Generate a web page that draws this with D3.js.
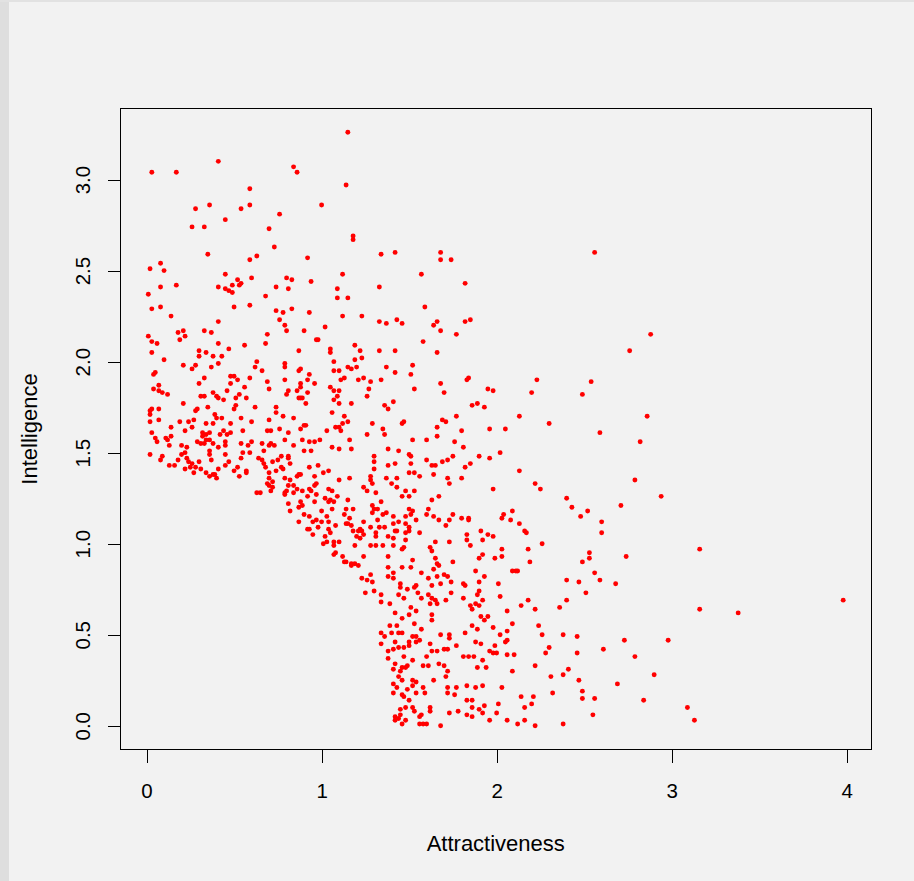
<!DOCTYPE html>
<html>
<head>
<meta charset="utf-8">
<script src="https://cdn.jsdelivr.net/npm/d3@7"></script>
<style>
  html, body { margin: 0; padding: 0; background: #f2f2f2; }
  svg { display: block; }
  text { font-family: "Liberation Sans", Arial, Helvetica, sans-serif; fill: #000; }
</style>
</head>
<body>
<svg id="chart" width="914" height="881"></svg>
<script>
// Axis labels and tick values
const xLabel = "Attractiveness";
const yLabel = "Intelligence";
const xTicks = [0, 1, 2, 3, 4];
const yTicks = [0, 0.5, 1, 1.5, 2, 2.5, 3];

// Each observation: [attractiveness, intelligence]
const people = [
  [0.03,3.04],[0.17,3.04],[0.41,3.10],[0.84,3.07],[0.86,3.04],[0.59,2.95],[0.28,2.84],[0.36,2.86],[0.54,2.84],[0.59,2.86],
  [0.76,2.81],[0.45,2.78],[0.26,2.74],[0.33,2.74],[0.70,2.73],[0.73,2.63],[0.35,2.59],[0.59,2.56],[0.63,2.58],[0.08,2.54],
  [0.02,2.51],[0.10,2.50],[0.45,2.48],[0.60,2.46],[0.52,2.45],[0.54,2.43],[0.53,2.42],[0.49,2.42],[0.80,2.46],[0.83,2.45],
  [0.74,2.41],[0.81,2.40],[0.17,2.42],[0.08,2.41],[0.01,2.37],[0.41,2.41],[0.45,2.40],[0.47,2.39],[0.49,2.38],[0.68,2.36],
  [0.03,2.29],[0.08,2.30],[0.50,2.30],[0.59,2.31],[0.74,2.28],[0.78,2.27],[0.83,2.29],[0.14,2.25],[0.41,2.22],[0.76,2.23],
  [0.79,2.20],
  [1.15,3.26],[1.14,2.97],[1.00,2.86],[1.18,2.69],[1.18,2.67],[0.92,2.57],[1.34,2.59],[1.42,2.60],[1.68,2.60],[1.68,2.56],
  [1.74,2.56],[1.12,2.48],[0.94,2.44],[1.57,2.48],[1.09,2.40],[1.33,2.41],[1.09,2.35],[1.15,2.35],[0.93,2.27],[1.12,2.25],
  [1.23,2.25],[1.59,2.30],[1.33,2.22],[1.37,2.21],[1.43,2.23],[1.46,2.21],[1.66,2.22],[1.64,2.20],[1.02,2.19],
  [2.56,2.60],[1.82,2.43],[1.82,2.22],[1.85,2.23],
  [0.01,2.14],[0.03,2.11],[0.06,2.10],[0.18,2.16],[0.19,2.12],[0.22,2.14],[0.21,2.17],[0.33,2.17],[0.37,2.16],[0.41,2.10],
  [0.47,2.07],[0.56,2.09],[0.69,2.15],[0.68,2.10],[0.80,2.17],[0.87,2.06],[0.03,2.05],[0.10,2.01],[0.30,2.06],[0.30,2.03],
  [0.34,2.05],[0.38,2.03],[0.43,2.03],[0.21,1.98],[0.26,1.96],[0.28,1.98],[0.37,1.97],[0.41,1.99],[0.63,2.00],[0.62,1.97],
  [0.66,1.95],[0.79,1.99],[0.79,1.97],[0.87,1.95],[0.05,1.94],[0.04,1.93],[0.48,1.92],[0.50,1.92],[0.33,1.91],[0.59,1.91],
  [0.52,1.90],[0.48,1.88],[0.30,1.88],[0.69,1.89],[0.79,1.90],[0.07,1.87],[0.04,1.85],[0.07,1.84],[0.09,1.83],[0.12,1.82],
  [0.38,1.83],[0.46,1.84],[0.56,1.86],[0.70,1.85],[0.81,1.84],[0.80,1.82],[0.86,1.84],[0.31,1.81],[0.33,1.81],[0.40,1.81],
  [0.41,1.80],[0.44,1.79],[0.51,1.80],[0.53,1.82],[0.57,1.80],[0.87,1.80],[0.21,1.77],[0.35,1.75],[0.51,1.76],[0.50,1.74],
  [0.62,1.75],[0.74,1.75],[0.74,1.72],[0.78,1.70],[0.02,1.73],[0.03,1.74],[0.07,1.74],[0.02,1.71],[0.28,1.73],[0.29,1.74],
  [0.39,1.71],[0.40,1.69],[0.43,1.69],[0.38,1.66],[0.54,1.69],[0.60,1.67],[0.70,1.68],[0.84,1.69],[0.02,1.67],[0.07,1.68],
  [0.14,1.64],[0.19,1.67],[0.24,1.67],[0.27,1.68],[0.26,1.64],[0.22,1.62],[0.34,1.66],[0.48,1.66],[0.69,1.62],[0.71,1.62],
  [0.76,1.63],[0.81,1.61],[0.03,1.61],[0.05,1.58],[0.06,1.56],[0.11,1.58],[0.12,1.57],[0.14,1.59],[0.13,1.54],[0.20,1.54],
  [0.23,1.53],[0.29,1.56],[0.32,1.59],[0.32,1.61],[0.34,1.60],[0.36,1.61],[0.31,1.55],[0.33,1.55],[0.34,1.57],[0.36,1.57],
  [0.38,1.55],[0.42,1.60],[0.44,1.62],[0.46,1.60],[0.48,1.61],[0.45,1.56],[0.45,1.54],[0.41,1.53],[0.54,1.55],[0.55,1.62],
  [0.58,1.54],[0.60,1.56],[0.66,1.55],[0.70,1.54],[0.71,1.55],[0.73,1.54],[0.79,1.57],[0.84,1.54],[0.02,1.49],[0.08,1.46],
  [0.09,1.48],[0.13,1.43],[0.16,1.43],[0.18,1.46],[0.20,1.49],[0.22,1.50],[0.23,1.47],[0.24,1.45],[0.26,1.44],[0.25,1.42],
  [0.27,1.39],[0.28,1.42],[0.30,1.45],[0.31,1.41],[0.22,1.41],[0.34,1.39],[0.36,1.49],[0.36,1.51],[0.37,1.46],[0.38,1.38],
  [0.36,1.37],[0.39,1.38],[0.40,1.36],[0.41,1.41],[0.45,1.43],[0.45,1.49],[0.47,1.45],[0.52,1.42],[0.50,1.40],[0.53,1.37],
  [0.54,1.47],[0.55,1.50],[0.57,1.39],[0.57,1.40],[0.59,1.50],[0.64,1.47],[0.66,1.46],[0.67,1.51],[0.67,1.44],[0.68,1.42],
  [0.72,1.45],[0.75,1.46],[0.77,1.48],[0.81,1.47],[0.81,1.48],[0.82,1.44],[0.77,1.42],[0.78,1.41],[0.74,1.40],[0.70,1.39],
  [0.70,1.36],[0.69,1.33],[0.70,1.32],[0.72,1.34],[0.72,1.31],[0.71,1.29],[0.79,1.36],[0.82,1.35],[0.86,1.37],[0.87,1.38],
  [0.63,1.28],[0.65,1.28],[0.81,1.32],[0.80,1.29],[0.84,1.32],[0.86,1.30],[0.84,1.28],[0.79,1.28],[0.79,1.27],[0.81,1.22],
  [0.82,1.18],[0.87,1.20],[0.87,1.12],
  [0.97,2.12],[0.98,2.12],[0.90,2.17],[1.68,2.17],[1.77,2.15],[1.58,2.11],[1.05,2.07],[1.05,2.05],[1.19,2.09],[1.22,2.06],
  [1.33,2.06],[1.42,2.06],[1.66,2.05],[1.07,2.00],[1.19,2.01],[1.23,2.02],[1.20,1.97],[1.15,1.97],[1.17,1.96],[1.07,1.95],
  [1.10,1.95],[1.37,1.97],[1.52,1.98],[1.42,1.94],[1.51,1.93],[0.88,1.96],[0.93,1.93],[0.92,1.90],[0.96,1.88],[0.88,1.88],
  [0.88,1.86],[1.11,1.90],[1.13,1.91],[1.21,1.90],[1.24,1.91],[1.28,1.89],[1.34,1.90],[1.68,1.88],[1.70,1.83],[1.53,1.85],
  [1.05,1.86],[1.07,1.84],[1.10,1.84],[1.09,1.81],[1.07,1.79],[1.10,1.77],[1.27,1.85],[1.26,1.81],[0.88,1.80],[0.89,1.80],
  [0.91,1.77],[0.92,1.83],[1.17,1.77],[1.36,1.76],[1.38,1.74],[1.41,1.78],[1.06,1.72],[1.13,1.70],[1.15,1.67],[1.12,1.66],
  [1.10,1.64],[1.08,1.64],[1.11,1.62],[1.03,1.62],[1.29,1.66],[1.35,1.63],[1.36,1.60],[1.26,1.60],[1.46,1.66],[1.47,1.67],
  [1.66,1.64],[1.69,1.68],[1.71,1.67],[1.77,1.70],[1.66,1.59],[1.52,1.57],[1.60,1.57],[1.76,1.56],[0.90,1.65],[0.91,1.65],
  [0.88,1.63],[0.89,1.57],[0.93,1.56],[0.96,1.56],[0.99,1.57],[0.90,1.51],[0.94,1.51],[1.06,1.53],[1.10,1.52],[1.17,1.52],
  [1.16,1.57],[1.38,1.52],[1.44,1.51],[1.50,1.49],[1.51,1.48],[1.30,1.48],[1.30,1.45],[1.30,1.41],[1.38,1.43],[1.42,1.44],
  [1.51,1.44],[1.60,1.46],[1.63,1.43],[1.65,1.43],[1.69,1.45],[1.72,1.46],[1.75,1.48],[1.64,1.38],[1.72,1.36],[1.73,1.33],
  [0.93,1.42],[0.98,1.43],[1.01,1.39],[1.04,1.40],[0.96,1.37],[0.88,1.38],[1.10,1.35],[1.16,1.36],[1.28,1.37],[1.28,1.35],
  [1.29,1.33],[1.24,1.31],[1.26,1.29],[1.37,1.36],[1.43,1.36],[1.40,1.33],[1.43,1.31],[1.50,1.39],[1.53,1.39],[1.56,1.37],
  [1.31,1.28],[1.48,1.29],[1.53,1.29],[1.46,1.26],[1.50,1.26],[1.67,1.26],[1.63,1.24],[0.89,1.29],[0.93,1.30],[0.96,1.32],
  [0.97,1.33],[0.97,1.27],[0.96,1.23],[0.92,1.26],[0.94,1.29],[1.02,1.25],[1.04,1.30],[1.06,1.29],[1.05,1.24],[1.07,1.23],
  [1.04,1.23],[1.09,1.26],[1.15,1.24],[0.88,1.23],[0.89,1.21],[0.90,1.16],[0.93,1.15],[0.97,1.13],[0.95,1.12],[1.00,1.18],
  [1.00,1.12],[1.03,1.15],[1.04,1.12],[1.06,1.19],[1.04,1.08],[0.92,1.08],[0.93,1.08],[0.98,1.09],[0.95,1.05],[1.02,1.04],
  [1.05,1.06],[1.08,1.10],[1.14,1.19],[1.18,1.19],[1.13,1.16],[1.16,1.14],[1.14,1.11],[1.17,1.10],[1.18,1.07],[1.15,1.11],
  [1.22,1.08],[1.21,1.07],[1.23,1.07],[1.24,1.05],[1.20,1.04],[1.22,1.03],[1.24,1.12],[1.29,1.17],[1.29,1.21],[1.34,1.23],
  [1.35,1.16],[1.37,1.17],[1.41,1.15],[1.30,1.19],[1.32,1.19],[1.32,1.13],[1.28,1.09],[1.31,1.06],[1.31,1.04],[1.33,1.09],
  [1.36,1.09],[1.38,1.04],[1.41,1.11],[1.44,1.12],[1.42,1.07],[1.43,1.07],[1.41,1.03],[1.48,1.15],[1.50,1.19],[1.51,1.16],
  [1.54,1.13],[1.52,1.18],[1.50,1.07],[1.48,1.11],[1.50,1.09],[1.48,1.06],[1.56,1.06],[1.61,1.19],[1.60,1.16],[1.64,1.15],
  [1.67,1.13],[1.71,1.10],[1.73,1.13],[1.75,1.16],
  [2.76,2.06],[1.84,1.91],[1.83,1.90],[2.23,1.90],[2.54,1.89],[1.95,1.85],[1.98,1.84],[2.20,1.83],[2.49,1.82],[1.89,1.77],
  [1.86,1.76],[1.93,1.75],[2.13,1.70],[2.86,1.70],[2.30,1.66],[1.80,1.62],[1.96,1.63],[2.05,1.63],[2.59,1.61],[2.82,1.56],
  [1.81,1.53],[1.90,1.48],[1.96,1.47],[2.02,1.50],[1.82,1.42],[1.85,1.44],[2.13,1.40],[1.80,1.36],[1.98,1.30],[2.22,1.33],
  [2.25,1.30],[2.79,1.35],[2.40,1.25],[2.43,1.20],[2.71,1.21],[2.52,1.18],[2.48,1.15],[2.60,1.12],[2.60,1.06],[2.09,1.18],
  [2.04,1.16],[2.03,1.14],[2.08,1.13],[1.80,1.14],[1.84,1.14],[1.84,1.13],[2.13,1.11],[1.91,1.07],[1.95,1.05],[1.98,1.04],
  [1.83,1.05],[2.16,1.07],[2.17,1.06],
  [2.88,2.15],[2.94,1.26],[3.16,0.97],[3.98,0.69],[3.16,0.64],[3.38,0.62],[2.98,0.47],[2.90,0.28],[3.09,0.10],[3.13,0.03],
  [1.01,1.00],[1.03,1.01],[1.07,1.01],[1.07,0.99],[1.10,1.01],[1.19,0.99],[1.28,0.99],[1.31,0.99],[1.35,0.99],[1.41,0.99],
  [1.46,0.97],[1.47,0.98],[1.48,1.02],[1.62,0.98],[1.63,0.96],[1.65,1.01],[1.73,1.01],[1.07,0.94],[1.08,0.95],[1.12,0.93],
  [1.13,0.90],[1.14,0.90],[1.17,0.89],[1.17,0.88],[1.19,0.89],[1.21,0.88],[1.24,0.93],[1.38,0.93],[1.46,0.87],[1.52,0.91],
  [1.51,0.87],[1.38,0.87],[1.65,0.92],[1.66,0.89],[1.67,0.88],[1.75,0.90],[1.23,0.81],[1.28,0.83],[1.26,0.80],[1.29,0.79],
  [1.25,0.73],[1.30,0.74],[1.34,0.72],[1.34,0.68],[1.39,0.67],[1.38,0.82],[1.41,0.84],[1.41,0.81],[1.45,0.78],[1.45,0.76],
  [1.44,0.72],[1.47,0.70],[1.49,0.75],[1.53,0.76],[1.54,0.77],[1.55,0.73],[1.57,0.84],[1.61,0.81],[1.64,0.86],[1.63,0.77],
  [1.66,0.82],[1.68,0.78],[1.70,0.83],[1.72,0.82],[1.74,0.79],[1.74,0.73],[1.71,0.69],[1.57,0.70],[1.61,0.72],[1.63,0.70],
  [1.65,0.69],[1.62,0.67],[1.66,0.67],[1.42,0.62],[1.46,0.59],[1.50,0.61],[1.51,0.65],[1.54,0.63],[1.63,0.61],[1.63,0.58],
  [1.53,0.56],[1.39,0.55],[1.43,0.55],[1.34,0.51],[1.36,0.49],[1.40,0.51],[1.44,0.51],[1.46,0.51],[1.52,0.49],[1.54,0.49],
  [1.56,0.47],[1.57,0.53],[1.54,0.46],[1.34,0.45],[1.38,0.41],[1.38,0.37],[1.41,0.42],[1.42,0.46],[1.44,0.43],[1.47,0.43],
  [1.50,0.46],[1.50,0.44],[1.47,0.38],[1.52,0.36],[1.60,0.38],[1.62,0.45],[1.63,0.41],[1.66,0.41],[1.68,0.50],[1.73,0.50],
  [1.73,0.48],[1.72,0.42],[1.70,0.42],[1.67,0.34],[1.70,0.33],[1.77,0.44],[1.72,0.30],[1.71,0.27],[1.72,0.21],[1.77,0.21],
  [1.76,0.17],[1.72,0.18],[1.42,0.34],[1.41,0.31],[1.45,0.30],[1.46,0.32],[1.48,0.32],[1.49,0.33],[1.44,0.27],[1.46,0.25],
  [1.41,0.23],[1.43,0.21],[1.52,0.25],[1.54,0.24],[1.52,0.22],[1.58,0.21],[1.58,0.33],[1.61,0.33],[1.64,0.25],[1.41,0.18],
  [1.46,0.17],[1.47,0.16],[1.50,0.14],[1.49,0.20],[1.54,0.18],[1.59,0.18],[1.48,0.10],[1.52,0.10],[1.53,0.08],[1.57,0.06],
  [1.56,0.05],[1.62,0.10],[1.62,0.08],[1.45,0.09],[1.45,0.06],[1.42,0.05],[1.44,0.04],[1.42,0.03],[1.46,0.01],[1.48,0.03],
  [1.56,0.01],[1.58,0.01],[1.60,0.01],[1.68,0.00],[1.73,0.07],[1.78,0.08],
  [1.83,1.02],[1.92,1.02],[1.85,0.99],[2.03,0.97],[2.26,1.00],[2.18,0.97],[1.92,0.94],[1.90,0.92],[1.99,0.92],[2.03,0.93],
  [2.19,0.90],[2.53,0.95],[2.53,0.92],[2.49,0.90],[2.74,0.93],[1.88,0.85],[1.93,0.82],[2.09,0.85],[2.11,0.85],[2.12,0.85],
  [2.56,0.84],[2.40,0.80],[2.47,0.79],[2.59,0.80],[2.68,0.78],[2.51,0.73],[1.81,0.78],[1.82,0.77],[1.90,0.79],[2.01,0.78],
  [1.90,0.74],[1.89,0.72],[1.92,0.69],[1.81,0.70],[1.88,0.67],[1.85,0.66],[1.86,0.64],[1.90,0.66],[2.02,0.71],[2.14,0.66],
  [2.18,0.69],[2.22,0.64],[2.36,0.65],[2.40,0.69],[2.06,0.63],[1.91,0.60],[1.93,0.58],[1.95,0.60],[2.09,0.56],[1.86,0.55],
  [1.89,0.53],[1.98,0.54],[2.06,0.52],[2.02,0.50],[1.82,0.51],[2.24,0.55],[2.26,0.50],[2.38,0.50],[2.46,0.49],[2.73,0.47],
  [2.61,0.42],[2.79,0.38],[1.88,0.46],[1.91,0.45],[1.99,0.44],[2.06,0.47],[2.05,0.46],[1.96,0.41],[1.98,0.40],[2.00,0.40],
  [2.06,0.39],[2.10,0.39],[1.81,0.38],[1.84,0.38],[1.87,0.38],[1.92,0.36],[1.89,0.32],[1.94,0.32],[2.30,0.43],[2.28,0.40],
  [2.46,0.40],[2.22,0.33],[2.41,0.31],[2.38,0.28],[2.31,0.27],[2.09,0.30],[2.47,0.25],[2.69,0.23],[1.83,0.22],[1.88,0.21],
  [1.92,0.22],[2.03,0.21],[2.32,0.18],[2.49,0.19],[2.49,0.15],[2.56,0.15],[2.14,0.16],[2.21,0.16],[2.84,0.14],[1.83,0.14],
  [1.86,0.14],[2.01,0.12],[2.16,0.10],[2.20,0.12],[1.93,0.11],[1.90,0.09],[1.86,0.10],[1.92,0.07],[2.00,0.07],[1.83,0.06],
  [1.86,0.05],[1.96,0.03],[2.06,0.03],[2.12,0.01],[2.16,0.03],[2.22,0.00],[2.38,0.01],[2.55,0.06]
];

const attractiveness = people.map(d => d[0]);
const intelligence = people.map(d => d[1]);

const svg = d3.select("#chart");
const W = 914, H = 881;

// Device background with a faint darker frame on the left/top edge
svg.append("rect").attr("width", W).attr("height", H).attr("fill", "#f2f2f2");
svg.append("rect").attr("x", 0).attr("y", 0).attr("width", 9).attr("height", H).attr("fill", "#dedede");
svg.append("rect").attr("x", 0).attr("y", 0).attr("width", W).attr("height", 2).attr("fill", "#e2e2e2");

const plot = { left: 120.5, right: 871, top: 108.5, bottom: 749.5 };

// Axis ranges padded by 4% of the data span on each side
function padded(values) {
  const [lo, hi] = d3.extent(values);
  const pad = (hi - lo) * 0.04;
  return [lo - pad, hi + pad];
}

const x = d3.scaleLinear().domain(padded(attractiveness)).range([plot.left, plot.right]);
const y = d3.scaleLinear().domain(padded(intelligence)).range([plot.bottom, plot.top]);

// Points
svg.append("g")
  .selectAll("circle")
  .data(people)
  .join("circle")
  .attr("cx", d => x(d[0]))
  .attr("cy", d => y(d[1]))
  .attr("r", 2.45)
  .attr("fill", "#ff0000");

// Plot frame
svg.append("rect")
  .attr("x", plot.left).attr("y", plot.top)
  .attr("width", plot.right - plot.left).attr("height", plot.bottom - plot.top)
  .attr("fill", "none").attr("stroke", "#000").attr("stroke-width", 1)
  .attr("shape-rendering", "crispEdges");

// Bottom axis
const xAxis = d3.axisBottom(x).tickValues(xTicks).tickSize(13).tickPadding(21)
  .tickFormat(d3.format("d"));
const gx = svg.append("g").attr("transform", `translate(0,${plot.bottom})`).call(xAxis);
gx.select(".domain").attr("d", `M${x(xTicks[0])},0H${x(xTicks[xTicks.length - 1])}`)
  .attr("stroke", "#000").attr("shape-rendering", "crispEdges");
gx.selectAll(".tick line").attr("stroke", "#000").attr("shape-rendering", "crispEdges");
gx.selectAll(".tick text")
  .attr("font-size", "20.5px").attr("font-family", "Liberation Sans, Arial, sans-serif")
  .attr("fill", "#000");

// Left axis with rotated labels
const yAxis = d3.axisLeft(y).tickValues(yTicks).tickSize(13)
  .tickFormat(d3.format(".1f"));
const gy = svg.append("g").attr("transform", `translate(${plot.left},0)`).call(yAxis);
gy.select(".domain").attr("d", `M0,${y(yTicks[0])}V${y(yTicks[yTicks.length - 1])}`)
  .attr("stroke", "#000").attr("shape-rendering", "crispEdges");
gy.selectAll(".tick line").attr("stroke", "#000").attr("shape-rendering", "crispEdges");
gy.selectAll(".tick text")
  .attr("font-size", "20.5px").attr("font-family", "Liberation Sans, Arial, sans-serif")
  .attr("fill", "#000")
  .attr("x", null).attr("dy", null)
  .attr("text-anchor", "middle")
  .attr("transform", "translate(-30.5,0) rotate(-90)");

// Axis titles
svg.append("text")
  .attr("x", (plot.left + plot.right) / 2)
  .attr("y", 850.5)
  .attr("text-anchor", "middle")
  .attr("font-size", "22px")
  .text(xLabel);

svg.append("text")
  .attr("transform", `translate(37,${(plot.top + plot.bottom) / 2}) rotate(-90)`)
  .attr("text-anchor", "middle")
  .attr("font-size", "22px")
  .text(yLabel);
</script>
</body>
</html>
